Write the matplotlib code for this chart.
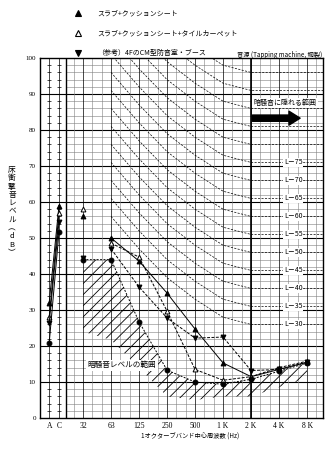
import matplotlib
matplotlib.use('Agg')
import matplotlib.pyplot as plt
import numpy as np

plt.rcParams['font.family'] = ['Noto Sans CJK JP', 'DejaVu Sans']
plt.rcParams['hatch.linewidth'] = 0.6

# categories
ac_labels = ['A', 'C']
bands = ['32', '63', '125', '250', '500', '1 K', '2 K', '4 K', '8 K']

# levels (dB): A, C, 32 .. 8K
slab_cushion = [32, 59, 56, 50, 43.6, 34.7, 24.7, 15.3, 11.5, 13.5, 15.5]
slab_cushion_tile = [28, 57, 58, 48.6, 44.7, 29.7, 13.5, 10.5, 11.5, 14, 15.8]
cm_booth = [26.5, 54.4, 44.5, 47, 36.4, 27.8, 22.2, 22.5, 13.2, 13.5, 15.5]
background = [20.8, 51.7, 44, 44, 26.7, 13.3, 10, 9.4, 10.8, 13, 15.3]
# lower edge of the hatched background range, 32 .. 8K
background_low = [24, 21.7, 14, 6, 5, 6, 6, 8.6, 11]

# L-curves: offset from N at 63 .. 8K
l_numbers = [30, 35, 40, 45, 50, 55, 60, 65, 70, 75, 80, 85, 90, 95, 100]
l_offsets = [26, 17, 9, 3, -2, -4, -4, -4]

ac_x = [-1.21, -0.86]
band_x = list(range(len(bands)))
xmin, xmax = -1.536, 8.57
sep_x = -0.6

fig = plt.figure(figsize=(3.31, 4.5), dpi=100)
ax = fig.add_axes([0.121, 0.071, 0.855, 0.8])
ax.set_xlim(xmin, xmax)
ax.set_ylim(0, 100)

# grid
for y in range(2, 100, 2):
    if y % 10:
        ax.plot([sep_x, xmax], [y, y], color='0.55', lw=0.45, zorder=1)
for y in range(10, 100, 10):
    ax.axhline(y, color='black', lw=0.8, zorder=1)
for i in band_x:
    ax.axvline(i, color='black', lw=0.5, zorder=1)
    for t in (1 / 3, 2 / 3):
        if i + t < xmax:
            ax.axvline(i + t, color='0.5', lw=0.4, zorder=1)
ax.axvline(-1 / 3, color='0.5', lw=0.4, zorder=1)
ax.axvline(sep_x, color='black', lw=1.0, zorder=1)
ax.axvline(6, color='black', lw=1.2, zorder=1)
for x in ac_x:
    ax.axvline(x, color='black', lw=0.5, zorder=1)
    ax.plot([x] * 50, np.arange(0, 100, 2), ls='none', marker='_', ms=3,
            mew=0.5, color='black', zorder=1)

# L-curves
l_x = band_x[1:] + [xmax]
for n in l_numbers:
    vals = [n + o for o in l_offsets]
    vals = vals + [vals[-1]]
    ax.plot(l_x, vals, color='black', lw=0.5, ls=(0, (3, 2)), zorder=2)
    if n <= 75:
        ax.text(7.5, n - 4, 'L－%d' % n, fontsize=5, ha='center', va='center',
                bbox=dict(facecolor='white', edgecolor='none', pad=0.6), zorder=4)

# background range (hatched)
ax.fill_between(band_x, background_low, background[2:], facecolor='none',
                edgecolor='black', hatch='///', lw=0, zorder=2)

series = [
    (slab_cushion, '^', 'black', '-', 3),
    (slab_cushion_tile, '^', 'white', (0, (3, 1.5)), 3),
    (cm_booth, 'v', 'black', (0, (3, 1.5)), 3),
    (background, 'o', 'black', (0, (2, 1.5)), 2),
]
for vals, mk, fc, ls, start in series:
    ax.plot(ac_x, vals[:2], color='black', lw=0.7, ls='-', marker=mk, ms=3.5,
            mfc=fc, mec='black', mew=0.7, zorder=5)
    ax.plot(band_x[start - 2:], vals[start:], color='black', lw=0.7, ls=ls,
            marker=mk, ms=3.5, mfc=fc, mec='black', mew=0.7, zorder=5)
    ax.plot(band_x[:start - 2], vals[2:start], ls='none', marker=mk, ms=3.5,
            mfc=fc, mec='black', mew=0.7, zorder=5)

ax.text(1.39, 14.7, '暗騒音レベルの範囲', fontsize=5.5, ha='center', va='center',
        bbox=dict(facecolor='white', edgecolor='none', pad=1.0), zorder=6)
ax.text(7.2, 87.5, '暗騒音に隠れる範囲', fontsize=5, ha='center', va='center',
        bbox=dict(facecolor='white', edgecolor='none', pad=1.0), zorder=6)
ax.annotate('', xy=(7.85, 83.3), xytext=(5.95, 83.3),
            arrowprops=dict(arrowstyle='simple,head_width=1.0,head_length=0.8,tail_width=0.45',
                            color='black'), zorder=6)

ax.set_yticks(range(0, 101, 10))
ax.set_yticklabels([str(v) for v in range(0, 101, 10)], fontsize=5,
                   family='Liberation Serif')
ax.set_xticks(ac_x + band_x)
ax.set_xticklabels(ac_labels + bands, fontsize=5.5, family='Liberation Serif')
ax.tick_params(length=0, pad=3)
for s in ax.spines.values():
    s.set_linewidth(1.0)

fig.text(0.036, 0.53, '床\n衝\n撃\n音\nレ\nベ\nル\n︵\nd\nB\n︶', fontsize=5.5,
         ha='center', va='center', linespacing=1.05)
fig.text(0.574, 0.029, '1オクターブバンド中心周波数 (Hz)', fontsize=4.5,
         ha='center', va='center')

legend_items = [
    ('^', 'black', 'スラブ+クッションシート'),
    ('^', 'white', 'スラブ+クッションシート+タイルカーペット'),
    ('v', 'black', '（参考）4FのCM型防音室・ブース'),
]
for k, (mk, fc, label) in enumerate(legend_items):
    y = 0.971 - k * 0.0445
    fig.lines.append(plt.Line2D([0.236], [y], marker=mk, ms=4, mfc=fc, mec='black',
                                mew=0.8, transform=fig.transFigure, figure=fig))
    fig.text(0.293, y, label, fontsize=5, va='center')
fig.text(0.973, 0.878, '音源 (Tapping machine, 鋼製)', fontsize=4.5,
         ha='right', va='center')

fig.savefig('out.png', dpi=100)
